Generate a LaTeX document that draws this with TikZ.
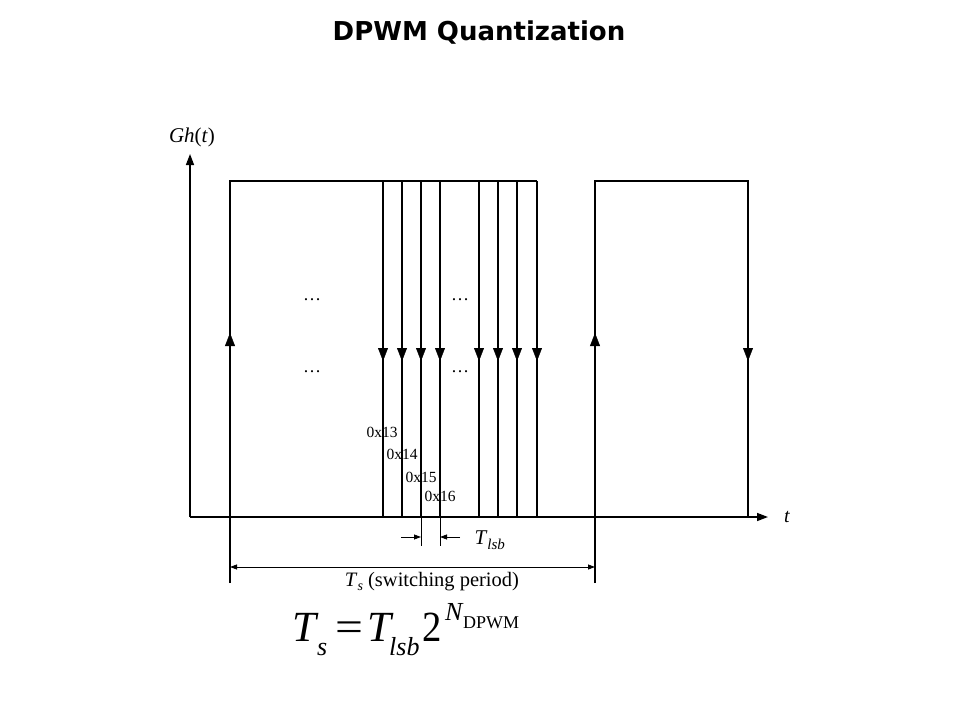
\documentclass[tikz,border=0pt]{standalone}
\usepackage{fontspec}
\setmainfont{Liberation Serif}
\newfontfamily\titlefont{DejaVu Sans}
\usetikzlibrary{arrows.meta}
\tikzset{
  sig/.style={line width=1.6pt},
  ax/.style={line width=1.4pt},
  dim/.style={line width=0.8pt},
  upmark/.style={-{Triangle[width=10pt,length=13pt]}},
  hexlbl/.style={font=\fontsize{15.5}{15.5}\selectfont, inner sep=0pt},
  dots/.style={font=\fontsize{18}{18}\selectfont, inner sep=0pt},
}
\newcommand{\putat}[3]{\makebox[0pt][l]{\hspace{#1}\raisebox{#2}{#3}}}
\begin{document}
\begin{tikzpicture}[x=1pt,y=-1pt]
\useasboundingbox (0,0) rectangle (960,720);
% title
\node[font=\titlefont\bfseries\fontsize{26}{26}\selectfont] (title) at (479,33) {DPWM Quantization};
% axes
\coordinate (o) at (190,517);
\coordinate (ytop) at (190,154);
\coordinate (xend) at (768,517);
\draw[ax,-{Triangle[width=8pt,length=11pt]}] (o) -- (ytop);
\draw[ax,-{Triangle[width=8pt,length=11pt]}] (o) -- (xend);
\node[font=\fontsize{21}{21}\selectfont] (gh) at (192,137) {\textit{Gh}(\textit{t})};
\node[font=\fontsize{20}{20}\selectfont] (tl) at (787,517) {\textit{t}};
% first pulse
\draw[sig] (230,583) -- (230,181) -- (537,181);
\foreach \x in {383,402,421,440,479,498,517,537}{
  \draw[sig] (\x,181) -- (\x,517);
  \draw[upmark] (\x,347) -- (\x,361);
}
\draw[upmark] (230,348) -- (230,333);
% extensions for Tlsb
\draw[dim] (421,517) -- (421,546);
\draw[dim] (440,517) -- (440,546);
% second pulse
\draw[sig] (595,583) -- (595,181) -- (748,181) -- (748,517);
\draw[upmark] (595,348) -- (595,333);
\draw[upmark] (748,347) -- (748,361);
% dots
\node[dots] (d1) at (312,300) {\dots};
\node[dots] (d2) at (460,300) {\dots};
\node[dots] (d3) at (312,372) {\dots};
\node[dots] (d4) at (460,372) {\dots};
% hex labels
\node[hexlbl] (h13) at (382,432) {0x13};
\node[hexlbl] (h14) at (402,454) {0x14};
\node[hexlbl] (h15) at (421,477) {0x15};
\node[hexlbl] (h16) at (440,496) {0x16};
% Tlsb dimension
\draw[dim,-{Triangle[width=5pt,length=7pt]}] (401,537) -- (421,537);
\draw[dim,-{Triangle[width=5pt,length=7pt]}] (460,537) -- (440,537);
\node[font=\fontsize{21}{21}\selectfont, anchor=west] (tlsb) at (471,540) {\textit{T}\raisebox{-5pt}{\fontsize{15}{15}\selectfont\textit{lsb}}};
% Ts dimension
\draw[dim,{Triangle[width=5pt,length=7pt]}-{Triangle[width=5pt,length=7pt]}] (230,567) -- (595,567);
\node[font=\fontsize{20.5}{20.5}\selectfont] (ts) at (432,582) {\textit{T}\raisebox{-3.5pt}{\fontsize{14}{14}\selectfont\textit{s}} (switching period)};
% formula
\node[font=\fontsize{43}{43}\selectfont, anchor=base west, inner sep=0pt] (eq) at (293,641)
 {\putat{-1pt}{0pt}{\textit{T}}%
  \putat{24pt}{-14pt}{\fontsize{26}{26}\selectfont\textit{s}}%
  \putat{42pt}{0pt}{\scalebox{1.15}[1]{=}}%
  \putat{74pt}{0pt}{\textit{T}}%
  \putat{96pt}{-14pt}{\fontsize{26}{26}\selectfont\textit{lsb}}%
  \putat{129pt}{0pt}{\scalebox{0.9}[1]{2}}%
  \putat{152pt}{21pt}{\fontsize{26}{26}\selectfont\textit{N}}%
  \putat{170pt}{13pt}{\fontsize{18}{18}\selectfont DPWM}%
  \hspace{226pt}\strut};
\end{tikzpicture}
\end{document}
